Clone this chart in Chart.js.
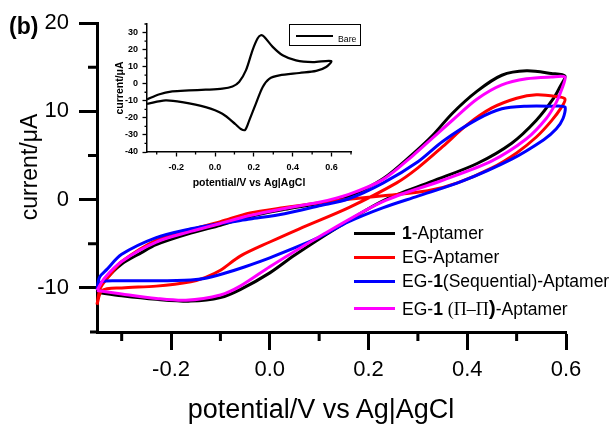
<!DOCTYPE html>
<html>
<head>
<meta charset="utf-8">
<script src="https://cdn.jsdelivr.net/npm/chart.js@4.4.1/dist/chart.umd.min.js"></script>
<style>
  html, body { margin: 0; padding: 0; background: #fff; }
  #wrap { position: relative; width: 614px; height: 429px; overflow: hidden; font-family: "Liberation Sans", Arial, sans-serif; color: #000; }
  #main { position: absolute; left: 0; top: 0; }
  #inset { position: absolute; left: 100px; top: 0; }
  #panel { position: absolute; left: 9px; top: 13px; font-weight: bold; font-size: 23px; line-height: 27px; }
  #xtitle { position: absolute; left: 321px; top: 396px; transform: translateX(-50%); font-size: 27px; line-height: 27px; white-space: nowrap; }
  #ytitle { position: absolute; left: 29px; top: 167px; transform: translate(-50%, -50%) rotate(-90deg); font-size: 23px; line-height: 23px; white-space: nowrap; }
  #legend { position: absolute; left: 354px; top: 221px; font-size: 17.5px; }
  .row { position: absolute; left: 0; height: 24px; white-space: nowrap; }
  .row > i { position: absolute; left: 0; top: 10.5px; width: 41px; height: 3px; }
  .row > span { position: absolute; left: 48px; top: 0; line-height: 24px; }
  .sym { font-family: "Liberation Serif", "DejaVu Serif", serif; font-size: 18px; }
  .big { font-size: 21px; }
  #bare { position: absolute; left: 289px; top: 24px; width: 70px; height: 20px; border: 1px solid #000; }
  #bare i { position: absolute; left: 6px; top: 9.5px; width: 37px; height: 2.5px; background: #000; }
  #bare span { position: absolute; left: 48px; top: 9px; font-size: 8.7px; line-height: 10px; }
</style>
</head>
<body>
<div id="wrap">
  <canvas id="main" width="614" height="429"></canvas>
  <canvas id="inset" width="270" height="200"></canvas>
  <div id="panel">(b)</div>
  <div id="xtitle">potential/V vs Ag|AgCl</div>
  <div id="ytitle">current/μA</div>
  <div id="legend"></div>
  <div id="bare"><i></i><span>Bare</span></div>
</div>
<script>
// main panel: potential (V) / current (uA) pairs, forward sweep then return sweep
const aptamer1 = [
  [-0.35,-10.5],[-0.335,-9.2],[-0.30,-7.3],[-0.26,-6.0],[-0.23,-5.1],[-0.16,-3.8],[-0.10,-2.9],[-0.04,-1.9],
  [0.03,-1.1],[0.10,-0.4],[0.16,0.4],[0.23,2.4],[0.29,5.2],[0.33,7.3],[0.37,9.8],[0.42,12.3],[0.47,14.1],
  [0.52,14.6],[0.57,14.3],[0.598,14.0],
  [0.588,12.8],[0.575,11.5],[0.54,9.0],[0.49,6.4],[0.42,4.1],[0.33,2.1],[0.23,-0.1],[0.13,-3.4],[0.05,-6.3],
  [0.0,-8.3],[-0.06,-10.2],[-0.10,-11.1],[-0.16,-11.5],[-0.23,-11.3],[-0.30,-10.9],[-0.35,-10.5]
];
const egAptamer = [
  [-0.35,-11.9],[-0.343,-10.0],[-0.32,-8.3],[-0.30,-7.0],[-0.23,-4.6],[-0.16,-3.4],[-0.10,-2.5],[-0.04,-1.5],
  [0.03,-0.9],[0.10,-0.35],[0.16,0.05],[0.23,0.45],[0.32,1.0],[0.38,1.9],[0.45,3.6],[0.50,5.3],[0.54,7.1],
  [0.57,8.9],[0.59,10.4],[0.598,11.4],
  [0.58,11.7],[0.54,11.9],[0.50,11.5],[0.45,10.4],[0.40,8.5],[0.35,6.0],[0.30,3.6],[0.257,1.9],[0.16,-0.9],
  [0.06,-3.3],[0.0,-4.8],[-0.06,-6.4],[-0.10,-8.0],[-0.13,-8.8],[-0.16,-9.3],[-0.23,-9.8],[-0.30,-10.0],
  [-0.34,-10.3],[-0.35,-11.9]
];
const eg1Sequential = [
  [-0.35,-10.2],[-0.345,-8.8],[-0.33,-7.9],[-0.30,-6.2],[-0.23,-4.3],[-0.16,-3.3],[-0.10,-2.7],[-0.04,-2.2],
  [0.03,-1.6],[0.10,-0.7],[0.16,0.1],[0.23,1.9],[0.30,4.3],[0.35,6.6],[0.42,9.1],[0.47,10.3],[0.52,10.6],
  [0.57,10.6],[0.598,10.5],
  [0.594,9.2],[0.58,8.0],[0.555,6.8],[0.49,4.6],[0.39,2.1],[0.30,0.4],[0.23,-0.9],[0.16,-2.5],[0.095,-4.4],
  [0.0,-6.6],[-0.05,-7.6],[-0.095,-8.4],[-0.13,-8.9],[-0.16,-9.1],[-0.23,-9.2],[-0.30,-9.2],[-0.34,-9.3],[-0.35,-10.2]
];
const eg1PiPi = [
  [-0.35,-10.3],[-0.335,-8.9],[-0.30,-7.0],[-0.23,-4.8],[-0.16,-3.6],[-0.10,-2.7],[-0.04,-1.8],[0.03,-1.0],
  [0.10,-0.3],[0.16,0.6],[0.23,2.3],[0.29,5.0],[0.33,7.0],[0.37,9.0],[0.42,11.4],[0.47,13.0],[0.52,13.7],
  [0.57,13.9],[0.598,13.9],
  [0.592,12.6],[0.58,11.0],[0.56,9.2],[0.52,6.9],[0.45,4.4],[0.35,2.2],[0.23,-0.2],[0.10,-4.2],[0.0,-7.6],
  [-0.06,-9.8],[-0.10,-10.8],[-0.17,-11.4],[-0.23,-11.2],[-0.30,-10.7],[-0.35,-10.3]
];
// inset: bare electrode
const bare = [
  [-0.35,-9.2],[-0.29,-6.3],[-0.22,-4.5],[-0.134,-3.9],[-0.048,-3.5],[0.038,-2.9],[0.09,-1.6],[0.124,1.0],
  [0.159,7.8],[0.193,19.6],[0.219,26.5],[0.236,28.4],[0.253,27.5],[0.297,21.6],[0.348,16.7],[0.417,13.7],
  [0.503,12.7],[0.598,13.3],
  [0.572,9.8],[0.521,7.5],[0.434,6.3],[0.331,4.9],[0.279,2.9],[0.245,-2.0],[0.21,-11.8],[0.176,-21.6],
  [0.155,-27.1],[0.133,-26.5],[0.107,-23.9],[0.038,-17.6],[-0.048,-13.7],[-0.169,-10.8],[-0.255,-9.8],[-0.35,-11.8]
];

const seriesLabels = ['1-Aptamer', 'EG-Aptamer', 'EG-1(Sequential)-Aptamer', 'EG-1 (Π–Π)-Aptamer'];
const seriesColors = ['#000000', '#ff0000', '#0000ff', '#ff00ff'];
const legendHtml = [
  '<b>1</b>-Aptamer',
  'EG-Aptamer',
  'EG-<b>1</b>(Sequential)-Aptamer',
  'EG-<b>1</b> <span class="sym">(Π–Π</span><b class="big">)</b>-Aptamer'
];
const legendTops = [0, 24, 48, 75];

const xTicks = [-0.2, 0.0, 0.2, 0.4, 0.6];
const xMinor = [-0.3, -0.1, 0.1, 0.3, 0.5];
const yTicks = [-10, 0, 10, 20];
const yMinor = [-5, 5, 15];

const insetXTicks = [-0.2, 0.0, 0.2, 0.4, 0.6];
const insetXMinor = [-0.3, -0.1, 0.1, 0.3, 0.5, 0.7];
const insetYTicks = [-40, -30, -20, -10, 0, 10, 20, 30];
const insetYMinor = [-35, -25, -15, -5, 5, 15, 25, 35];

const FONT = '"Liberation Sans", Arial, sans-serif';
const toXY = arr => arr.map(p => ({ x: p[0], y: p[1] }));

// draws the short unlabeled ticks
const minorTicks = {
  id: 'minorTicks',
  afterDraw(chart, args, o) {
    const { ctx, chartArea: a, scales: { x, y } } = chart;
    ctx.save();
    ctx.strokeStyle = '#000';
    ctx.lineWidth = o.width;
    ctx.beginPath();
    o.x.forEach(v => { const p = x.getPixelForValue(v); ctx.moveTo(p, a.bottom); ctx.lineTo(p, a.bottom + o.len); });
    o.y.forEach(v => { const p = y.getPixelForValue(v); ctx.moveTo(a.left, p); ctx.lineTo(a.left - o.len, p); });
    if (o.overhang) { ctx.moveTo(a.left - o.overhang, a.bottom); ctx.lineTo(a.left, a.bottom); }
    ctx.stroke();
    ctx.restore();
  }
};

const mainSeries = [aptamer1, egAptamer, eg1Sequential, eg1PiPi];

new Chart(document.getElementById('main'), {
  type: 'scatter',
  data: {
    datasets: mainSeries.map((s, i) => ({
      label: seriesLabels[i],
      data: toXY(s),
      borderColor: seriesColors[i],
      backgroundColor: seriesColors[i],
      borderWidth: 3,
      showLine: true,
      pointRadius: 0,
      tension: 0.3,
      clip: 8,
      order: 3 - i
    }))
  },
  options: {
    responsive: false,
    animation: false,
    layout: { padding: { left: 0, top: 17, right: 48, bottom: 0 } },
    plugins: {
      legend: { display: false },
      tooltip: { enabled: false },
      minorTicks: { x: xMinor, y: yMinor, len: 9, width: 3, overhang: 7 }
    },
    scales: {
      x: {
        type: 'linear', min: -0.35, max: 0.6,
        afterBuildTicks: s => { s.ticks = xTicks.map(v => ({ value: v })); },
        afterFit: s => { s.height = 97; },
        ticks: { callback: v => v.toFixed(1), font: { family: FONT, size: 22 }, color: '#000', padding: 7, maxRotation: 0, autoSkip: false },
        grid: { drawOnChartArea: false, drawTicks: true, tickLength: 18, tickWidth: 3, tickColor: '#000' },
        border: { display: true, color: '#000', width: 3 }
      },
      y: {
        type: 'linear', min: -15, max: 20,
        afterBuildTicks: s => { s.ticks = yTicks.map(v => ({ value: v })); },
        afterFit: s => { s.width = 97; },
        ticks: { font: { family: FONT, size: 22 }, color: '#000', padding: 10, autoSkip: false },
        grid: { drawOnChartArea: false, drawTicks: true, tickLength: 18, tickWidth: 3, tickColor: '#000' },
        border: { display: true, color: '#000', width: 3 }
      }
    }
  },
  plugins: [minorTicks]
});

new Chart(document.getElementById('inset'), {
  type: 'scatter',
  data: {
    datasets: [{
      label: 'Bare',
      data: toXY(bare),
      borderColor: '#000',
      backgroundColor: '#000',
      borderWidth: 2.2,
      showLine: true,
      pointRadius: 0,
      tension: 0.3
    }]
  },
  options: {
    responsive: false,
    animation: false,
    layout: { padding: { left: 0, top: 24, right: 19, bottom: 0 } },
    plugins: {
      legend: { display: false },
      tooltip: { enabled: false },
      minorTicks: { x: insetXMinor, y: insetYMinor, len: 2.5, width: 1.3 }
    },
    scales: {
      x: {
        type: 'linear', min: -0.35, max: 0.7,
        afterBuildTicks: s => { s.ticks = insetXTicks.map(v => ({ value: v })); },
        afterFit: s => { s.height = 48; },
        ticks: { callback: v => v.toFixed(1), font: { family: FONT, size: 9, weight: 'bold' }, color: '#000', padding: 6, maxRotation: 0, autoSkip: false },
        grid: { drawOnChartArea: false, drawTicks: true, tickLength: 4.5, tickWidth: 1.3, tickColor: '#000' },
        border: { display: true, color: '#000', width: 1.5 },
        title: { display: true, text: 'potential/V vs Ag|AgCl', font: { family: FONT, size: 10.5, weight: 'bold' }, color: '#000', padding: { top: 0, bottom: 10.3 } }
      },
      y: {
        type: 'linear', min: -40, max: 35,
        afterBuildTicks: s => { s.ticks = insetYTicks.map(v => ({ value: v })); },
        afterFit: s => { s.width = 47; },
        ticks: { font: { family: FONT, size: 9, weight: 'bold' }, color: '#000', padding: 4.5, autoSkip: false },
        grid: { drawOnChartArea: false, drawTicks: true, tickLength: 4.5, tickWidth: 1.3, tickColor: '#000' },
        border: { display: true, color: '#000', width: 1.5 },
        title: { display: true, text: 'current/μA', font: { family: FONT, size: 10.5, weight: 'bold' }, color: '#000', padding: { top: 14.3, bottom: 0 } }
      }
    }
  },
  plugins: [minorTicks]
});

// legend for the main panel
const legend = document.getElementById('legend');
seriesLabels.forEach((name, i) => {
  const row = document.createElement('div');
  row.className = 'row';
  row.style.top = legendTops[i] + 'px';
  row.innerHTML = '<i style="background:' + seriesColors[i] + '"></i><span>' + legendHtml[i] + '</span>';
  legend.appendChild(row);
});
</script>
</body>
</html>
